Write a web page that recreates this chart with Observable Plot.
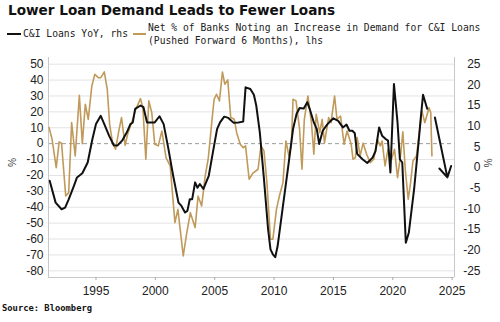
<!DOCTYPE html>
<html><head><meta charset="utf-8">
<script src="https://cdn.jsdelivr.net/npm/d3@7"></script>
<script src="https://cdn.jsdelivr.net/npm/@observablehq/plot@0.6"></script>
<style>
body{margin:0;background:#fff;width:500px;height:322px;overflow:hidden;position:relative;}
#title{position:absolute;left:8px;top:2px;font:bold 13.6px "DejaVu Sans",Verdana,sans-serif;color:#111;white-space:nowrap;}
.leg{position:absolute;font:9.7px "DejaVu Sans Mono",monospace;color:#222;white-space:nowrap;line-height:13px;}
.sw{position:absolute;height:2px;}
#chart{position:absolute;left:0;top:52px;}
#src{position:absolute;left:2px;top:303px;font:bold 8.8px "DejaVu Sans Mono",monospace;color:#111;}
</style></head>
<body>
<div id="title">Lower Loan Demand Leads to Fewer Loans</div>
<div class="sw" style="left:7px;top:33px;width:14px;background:#111;"></div>
<div class="leg" style="left:23px;top:27px;">C&amp;I Loans YoY, rhs</div>
<div class="sw" style="left:133px;top:33px;width:13px;background:#C09A5B;"></div>
<div class="leg" style="left:148px;top:21px;">Net % of Banks Noting an Increase in Demand for C&amp;I Loans<br>(Pushed Forward 6 Months), lhs</div>
<div id="chart"></div>
<div id="src">Source: Bloomberg</div>
<script>
// C&I Loans YoY (rhs, %)
const ciYears = [1991.1,1991.6,1992.1,1992.4,1992.7,1993.15,1993.4,1993.85,1994.3,1994.7,1995.0,1995.4,1995.7,1996.1,1996.5,1996.8,1997.2,1997.6,1997.9,1998.1,1998.3,1998.75,1999.0,1999.3,1999.95,2000.35,2000.7,2001.1,2001.5,2001.95,2002.2,2002.5,2002.7,2002.9,2003.1,2003.35,2003.55,2003.75,2004.05,2004.5,2004.9,2005.2,2005.45,2005.8,2006.15,2006.6,2007.0,2007.4,2007.6,2008.0,2008.3,2008.5,2008.8,2009.15,2009.5,2009.7,2009.9,2010.1,2010.3,2010.75,2011.2,2011.6,2011.9,2012.15,2012.5,2012.8,2013.0,2013.35,2013.6,2013.8,2014.1,2014.5,2015.0,2015.4,2015.8,2016.1,2016.35,2016.6,2016.8,2017.0,2017.45,2017.85,2018.3,2018.55,2018.85,2019.1,2019.4,2019.6,2019.8,2020.1,2020.4,2020.6,2020.8,2021.1,2021.35,2021.8,2022.2,2022.35,2022.55,2022.9];
const ciValues = [-3.2,-8.5,-10.1,-9.7,-7.7,-4.4,-2.4,-1.4,1.2,6.9,10.5,12.5,10.5,7.7,5.4,5.3,6.5,8.5,10.5,10.9,14.2,15.0,14.6,10.9,10.9,12.4,10.5,4.5,-2.0,-8.5,-9.3,-10.9,-10.5,-7.7,-7.7,-3.6,-4.9,-4.0,-5.2,-2.0,4.5,9.3,10.9,12.3,12.0,10.8,10.9,11.1,19.4,19.0,17.6,15.0,8.5,-2.8,-15.0,-19.8,-21.0,-21.7,-19.0,-9.3,0.4,9.3,13.0,14.4,14.3,15.8,14.2,10.9,9.3,5.7,8.9,10.5,11.9,11.3,9.7,10.4,8.9,8.9,8.3,3.3,2.0,1.1,2.4,4.0,9.7,7.7,6.9,6.5,-1.2,20.2,10.9,2.0,1.2,-18.2,-15.8,-5.2,6.9,11.7,17.6,14.2];
// Net % of banks noting increase in C&I loan demand, pushed forward 6 months (lhs, %)
const demYears = [1991.05,1991.3,1991.65,1991.9,1992.1,1992.45,1992.7,1992.95,1993.25,1993.6,1993.85,1994.1,1994.35,1994.65,1994.9,1995.2,1995.4,1995.7,1995.95,1996.15,1996.4,1996.65,1996.95,1997.15,1997.45,1997.7,1998.05,1998.35,1998.75,1998.95,1999.2,1999.45,1999.7,1999.95,2000.25,2000.55,2000.9,2001.25,2001.65,2001.9,2002.35,2002.65,2002.95,2003.35,2003.6,2003.9,2004.2,2004.45,2004.75,2004.95,2005.15,2005.4,2005.65,2005.85,2006.1,2006.35,2006.65,2006.85,2007.15,2007.4,2007.6,2007.9,2008.2,2008.65,2008.9,2009.15,2009.4,2009.7,2009.9,2010.2,2010.45,2010.75,2011.0,2011.25,2011.45,2011.6,2011.85,2012.15,2012.35,2012.55,2012.85,2013.15,2013.35,2013.55,2013.85,2014.05,2014.25,2014.6,2014.8,2015.1,2015.3,2015.6,2015.9,2016.15,2016.5,2016.65,2016.85,2017.0,2017.25,2017.5,2017.8,2018.1,2018.4,2018.7,2018.95,2019.1,2019.35,2019.6,2019.9,2020.15,2020.4,2020.65,2020.85,2021.05,2021.3,2021.5,2021.7,2022.0,2022.2,2022.45,2022.7,2022.9,2023.05,2023.2,2023.3];
const demValues = [10.1,2.8,-15.1,1.1,0.3,-32.9,-30.8,13.2,-7.7,30.4,0,24.8,15.3,36.3,43.6,41.5,41.5,45.1,34.2,12.2,0.3,-3.5,9.1,16.4,-1.0,6.9,14.3,21.6,28.3,22.6,-9.8,26.9,19.5,-0.4,-1.4,8.0,-8.8,-14.0,-49.7,-41.3,-70.6,-56.0,-43.4,-52.8,-32.9,-39.2,-20.3,-9.8,13.2,27.9,31.1,26.9,45.1,37.4,40.1,16.4,15.3,6.9,-0.4,-2.5,-1.4,-22.4,-18.7,-16.1,-1.4,-4.6,-24.5,-60.1,-60.1,-41.3,-32.9,-24.5,1.7,-7.7,-1.4,27.9,26.9,9.1,-16.1,15.3,30.0,13.2,-6.7,18.5,6.9,15.3,0.6,16.4,13.2,30.0,15.3,17.4,-0.4,8.0,-0.4,-9.8,-8.8,3.8,-7.7,0.3,-6.7,-11.9,-9.8,2.8,-1.4,1.7,-14.0,-3.5,-9.8,-3.5,-21.4,-7.7,7.4,-16.1,-35.0,-24.5,-10.9,-7.7,4.8,20.6,13.2,18.5,22.6,19.5,-7.7];
// annotation arrow (rhs values)
const arrowX = [2023.55, 2024.6];
const arrowY = [12.1, -2.4];
// ticks
const xTicks = [1995,2000,2005,2010,2015,2020,2025];
const leftTicks = [50,40,30,20,10,0,-10,-20,-30,-40,-50,-60,-70,-80];
const rightTicks = [25,20,15,10,5,0,-5,-10,-15,-20,-25];
const xDomain = [1991, 2025.2];
const yDomain = [-84.2, 54.2];
const pctLeftY = -9;
const pctRightY = 0;

const toL = v => -15 + 2.6 * v; // rhs -> lhs
const ciData = ciYears.map((x,i)=>({x, y: toL(ciValues[i])}));
const demData = demYears.map((x,i)=>({x, y: demValues[i]}));
const arrowData = [{x1: arrowX[0], y1: toL(arrowY[0]), x2: arrowX[1], y2: toL(arrowY[1])}];

const chart = Plot.plot({
  width: 500, height: 250,
  marginTop: 5, marginBottom: 25, marginLeft: 48, marginRight: 46,
  x: {domain: xDomain},
  y: {domain: yDomain},
  style: {fontFamily: "'Liberation Sans', Arial, sans-serif", fontSize: "12px", color: "#222", background: "white", overflow: "visible"},
  marks: [
    Plot.ruleY(leftTicks.filter(t => t !== 0), {stroke: "#e3e3e3", strokeWidth: 1}),
    Plot.ruleY([0], {stroke: "#9a9a9a", strokeDasharray: "4,3"}),
    Plot.ruleX(xDomain, {stroke: "#c8c8c8"}),
    Plot.ruleY([yDomain[0]], {stroke: "#c8c8c8"}),
    Plot.axisX({ticks: xTicks, tickFormat: d => String(d), tickSize: 3, tickPadding: 6, stroke: "#aaa", label: null, fontSize: 12}),
    Plot.axisY({ticks: leftTicks, tickFormat: d => String(d), tickSize: 0, tickPadding: 5, label: null, fontSize: 12}),
    Plot.text(rightTicks, {y: v => toL(v), text: v => String(v), frameAnchor: "right", dx: 26, textAnchor: "end", fontSize: 12, fill: "#222"}),
    Plot.text(["%"], {y: () => pctLeftY, frameAnchor: "left", dx: -37, rotate: 90, fontSize: 10, fill: "#444"}),
    Plot.text(["%"], {y: () => toL(pctRightY), frameAnchor: "right", dx: 33, rotate: 90, fontSize: 10, fill: "#444"}),
    Plot.line(demData, {x: "x", y: "y", stroke: "#C09A5B", strokeWidth: 1.6}),
    Plot.line(ciData, {x: "x", y: "y", stroke: "#111", strokeWidth: 2}),
    Plot.arrow(arrowData, {x1: "x1", y1: "y1", x2: "x2", y2: "y2", stroke: "#111", strokeWidth: 2, headLength: 9})
  ]
});
document.getElementById("chart").appendChild(chart);
</script>
</body></html>
